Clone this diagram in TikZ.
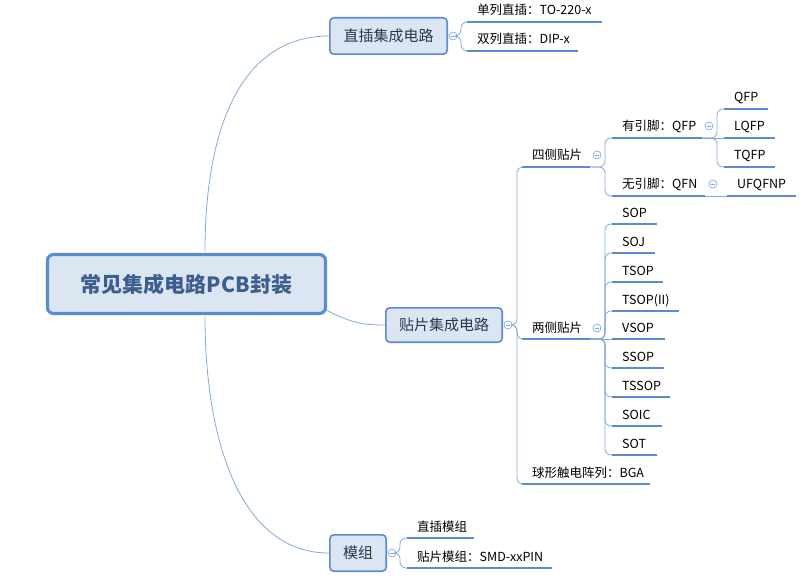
\documentclass[tikz,border=0pt]{standalone}
\usepackage{fontspec}
\setmainfont{Noto Sans CJK SC}
\usetikzlibrary{calc}
\definecolor{lineblue}{HTML}{5A8AD2}
\definecolor{connblue}{HTML}{86A9DD}
\definecolor{boxfill}{HTML}{DCE6F2}
\definecolor{boxborder}{HTML}{5B8BD0}
\definecolor{titlecol}{HTML}{3E5F8E}
\definecolor{boxtext}{HTML}{2B3648}
\tikzset{
 uline/.style={line width=2.2pt, lineblue, line cap=butt},
 conn/.style={line width=0.8pt, connblue, rounded corners=6pt},
 curveconn/.style={line width=0.8pt, connblue},
 leaftext/.style={anchor=base west, inner sep=0pt, font=\fontsize{12.5}{14}\selectfont, text=black},
 mainbox/.style={draw=boxborder, fill=boxfill, line width=1.6pt, rounded corners=4pt, text=boxtext, font=\fontsize{15}{18}\selectfont, inner sep=0pt},
 rootbox/.style={draw=boxborder, fill=boxfill, line width=3.2pt, rounded corners=6pt, text=titlecol, font=\fontsize{21}{25}\selectfont\bfseries, inner sep=0pt},
 collapse/.style={circle, draw=connblue, fill=white, line width=0.7pt, minimum size=8pt, inner sep=0pt,
   path picture={\draw[connblue, line width=0.6pt] ($(path picture bounding box.center)+(-2.2,0)$) -- ($(path picture bounding box.center)+(2.2,0)$);}},
}
\newcommand\mmleaf[5]{%
 \coordinate (#1-s) at (#2,#3);
 \coordinate (#1-e) at (#4,#3);
 \draw[uline] (#1-s) -- (#1-e);
 \node[leaftext] (#1) at ($(#1-s)+(10,-7)$) {#5};
}
\begin{document}
\begin{tikzpicture}[x=1pt,y=-1pt]
\useasboundingbox (0,0) rectangle (809,583);
\fill[white] (0,0) rectangle (809,583);

% root and main boxes
\node[rootbox, minimum width=278pt, minimum height=59pt] (root) at (186.5,284) {常见集成电路PCB封装};
\node[mainbox, minimum width=117.4pt, minimum height=36.4pt] (b1) at (388.5,36) {直插集成电路};
\node[mainbox, minimum width=116.4pt, minimum height=34.4pt] (b2) at (444,325) {贴片集成电路};
\node[mainbox, minimum width=56.4pt, minimum height=36.4pt] (b3) at (358,553) {模组};

\coordinate (rt) at ($(root.north)+(18.5,-1.6)$);
\coordinate (rb) at ($(root.south)+(18.5,1.6)$);
\coordinate (rr) at ($(root.south east)+(-1,-5)$);
\draw[curveconn] (rt) .. controls (205,130) and (240,36) .. (b1.west);
\draw[curveconn] (rb) .. controls (205,440) and (240,553) .. (b3.west);
\draw[curveconn] (rr) .. controls (350,322) and (360,325) .. (b2.west);

% collapse circles of main boxes
\node[collapse] (c1) at (453,36) {};
\node[collapse] (c2) at (508,325) {};
\node[collapse] (c3) at (392,553) {};

% box 1 children
\mmleaf{l1}{467}{22}{602}{单列直插：TO-220-x}
\mmleaf{l2}{467}{51}{578}{双列直插：DIP-x}
\coordinate (t1) at (461,0);
\draw[conn] (c1.east) -- (c1.east -| t1) |- (l1-s);
\draw[conn] (c1.east) -- (c1.east -| t1) |- (l2-s);

% box 3 children
\mmleaf{zm}{407}{538}{474}{直插模组}
\mmleaf{tm}{407}{568}{552}{贴片模组：SMD-xxPIN}
\coordinate (t6) at (400,0);
\draw[conn] (c3.east) -- (c3.east -| t6) |- (zm-s);
\draw[conn] (c3.east) -- (c3.east -| t6) |- (tm-s);

% box 2 children
\mmleaf{s4}{522}{167}{590}{四侧贴片}
\mmleaf{s2}{522}{339}{590}{两侧贴片}
\mmleaf{bga}{522}{484}{650}{球形触电阵列：BGA}
\coordinate (t2) at (517,0);
\draw[conn] (c2.east) -- (c2.east -| t2) |- (s4-s);
\draw[conn] (c2.east) -- (c2.east -| t2) |- (s2-s);
\draw[conn] (c2.east) -- (c2.east -| t2) |- (bga-s);
\node[collapse] (cs4) at (597,155) {};
\node[collapse] (cs2) at (597,328) {};

% four-side children
\mmleaf{q1}{612}{138}{702}{有引脚：QFP}
\mmleaf{q2}{612}{196}{705}{无引脚：QFN}
\coordinate (t3) at (605,0);
\draw[conn] (s4-e) -- (s4-e -| t3) |- (q1-s);
\draw[conn] (s4-e) -- (s4-e -| t3) |- (q2-s);
\node[collapse] (cq1) at (709,126) {};
\node[collapse] (cq2) at (713,184) {};

\mmleaf{qfp}{724}{109}{768}{QFP}
\mmleaf{lqfp}{724}{138}{775}{LQFP}
\mmleaf{tqfp}{724}{167}{775}{TQFP}
\coordinate (t4) at (717,0);
\draw[conn] (q1-e) -- (q1-e -| t4) |- (qfp-s);
\draw[conn] (q1-e) -- (lqfp-s);
\draw[conn] (q1-e) -- (q1-e -| t4) |- (tqfp-s);

\mmleaf{uf}{727}{196}{796}{UFQFNP}
\draw[conn] (q2-e) -- (uf-s);

% two-side children
\mmleaf{sop}{612}{224}{657}{SOP}
\mmleaf{soj}{612}{253}{655}{SOJ}
\mmleaf{tsop}{612}{282}{663}{TSOP}
\mmleaf{tsopii}{612}{311}{679}{TSOP(II)}
\mmleaf{vsop}{612}{339}{665}{VSOP}
\mmleaf{ssop}{612}{368}{664}{SSOP}
\mmleaf{tssop}{612}{397}{670}{TSSOP}
\mmleaf{soic}{612}{426}{662}{SOIC}
\mmleaf{sot}{612}{455}{657}{SOT}
\coordinate (t5) at (605,0);
\foreach \n in {sop,soj,tsop,tsopii,ssop,tssop,soic,sot}{
  \draw[conn] (s2-e) -- (s2-e -| t5) |- (\n-s);
}
\draw[conn] (s2-e) -- (vsop-s);
\end{tikzpicture}
\end{document}
